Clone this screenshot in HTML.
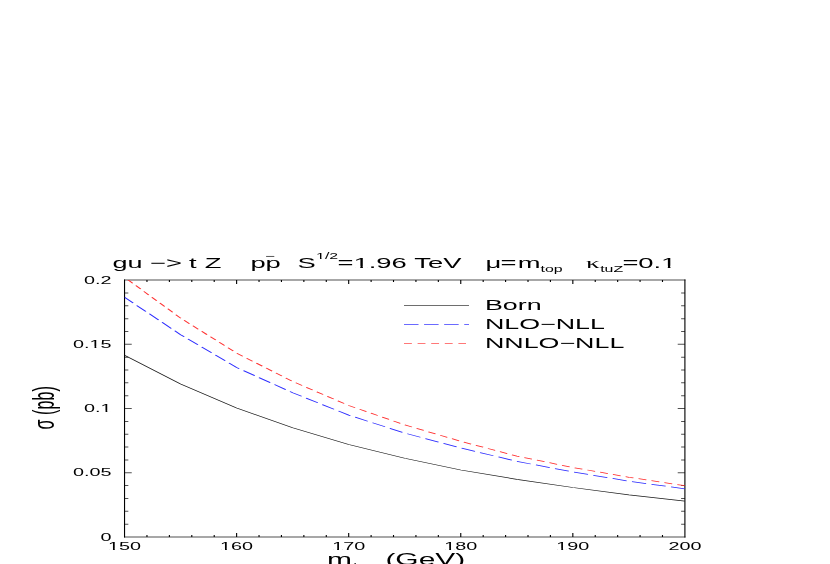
<!DOCTYPE html>
<html lang="en"><head><meta charset="utf-8"><title>plot</title>
<style>html,body{margin:0;padding:0;background:#fff}svg{display:block;will-change:transform}text{font-family:"Liberation Sans",sans-serif;fill:#000}.sy{font-family:"Liberation Serif",serif}</style></head><body>
<svg width="830" height="564" viewBox="0 0 830 564">
<rect width="830" height="564" fill="#fff"/>
<defs><clipPath id="c"><rect x="67.32" y="280.10" width="302.89" height="256.90"/></clipPath></defs>
<g transform="scale(1.85,1)">
<path d="M67.32 524.15h2.05M370.22 524.15h-2.05M67.32 511.31h2.05M370.22 511.31h-2.05M67.32 498.47h2.05M370.22 498.47h-2.05M67.32 485.62h2.05M370.22 485.62h-2.05M67.32 472.77h3.89M370.22 472.77h-3.89M67.32 459.93h2.05M370.22 459.93h-2.05M67.32 447.08h2.05M370.22 447.08h-2.05M67.32 434.24h2.05M370.22 434.24h-2.05M67.32 421.40h2.05M370.22 421.40h-2.05M67.32 408.55h3.89M370.22 408.55h-3.89M67.32 395.71h2.05M370.22 395.71h-2.05M67.32 382.86h2.05M370.22 382.86h-2.05M67.32 370.01h2.05M370.22 370.01h-2.05M67.32 357.17h2.05M370.22 357.17h-2.05M67.32 344.33h3.89M370.22 344.33h-3.89M67.32 331.48h2.05M370.22 331.48h-2.05M67.32 318.63h2.05M370.22 318.63h-2.05M67.32 305.79h2.05M370.22 305.79h-2.05M67.32 292.95h2.05M370.22 292.95h-2.05M67.02 280.10H370.52M67.02 537.00H370.52" stroke="#515151" stroke-width="1.0" fill="none"/>
<path d="M79.44 537.00v-2.0M79.44 280.10v2.0M91.56 537.00v-2.0M91.56 280.10v2.0M103.67 537.00v-2.0M103.67 280.10v2.0M115.79 537.00v-2.0M115.79 280.10v2.0M127.90 537.00v-3.9M127.90 280.10v3.9M140.02 537.00v-2.0M140.02 280.10v2.0M152.13 537.00v-2.0M152.13 280.10v2.0M164.25 537.00v-2.0M164.25 280.10v2.0M176.37 537.00v-2.0M176.37 280.10v2.0M188.48 537.00v-3.9M188.48 280.10v3.9M200.60 537.00v-2.0M200.60 280.10v2.0M212.71 537.00v-2.0M212.71 280.10v2.0M224.83 537.00v-2.0M224.83 280.10v2.0M236.94 537.00v-2.0M236.94 280.10v2.0M249.06 537.00v-3.9M249.06 280.10v3.9M261.18 537.00v-2.0M261.18 280.10v2.0M273.29 537.00v-2.0M273.29 280.10v2.0M285.41 537.00v-2.0M285.41 280.10v2.0M297.52 537.00v-2.0M297.52 280.10v2.0M309.64 537.00v-3.9M309.64 280.10v3.9M321.75 537.00v-2.0M321.75 280.10v2.0M333.87 537.00v-2.0M333.87 280.10v2.0M345.98 537.00v-2.0M345.98 280.10v2.0M358.10 537.00v-2.0M358.10 280.10v2.0M67.32 279.60V537.50M370.22 279.60V537.50" stroke="#000" stroke-width="0.6" fill="none"/>
<g clip-path="url(#c)" fill="none" stroke-linejoin="round">
<polyline points="67.32,355.31 97.61,383.98 127.90,408.00 158.19,427.76 188.48,444.57 218.77,458.30 249.06,469.97 279.35,479.34 309.64,487.55 339.93,494.86 370.22,501.15" stroke="#1a1a1a" stroke-width="0.66"/>
<polyline points="67.32,297.32 97.61,334.66 127.90,367.50 158.19,392.73 188.48,415.13 218.77,433.06 249.06,447.94 279.35,461.36 309.64,471.98 339.93,481.15 370.22,488.87" stroke="#2b2bff" stroke-width="0.78" stroke-dasharray="7.9 3.0" stroke-dashoffset="0.5"/>
<polyline points="67.32,277.31 97.61,318.11 127.90,353.13 158.19,381.49 188.48,405.48 218.77,424.87 249.06,441.29 279.35,456.14 309.64,467.45 339.93,477.27 370.22,485.66" stroke="#ff3030" stroke-width="0.78" stroke-dasharray="4.4 2.85" stroke-dashoffset="4.25"/>
</g>
<text x="60.32" y="540.70" font-size="10.7" text-anchor="end">0</text>
<text x="60.32" y="476.47" font-size="10.7" text-anchor="end">0.05</text>
<text x="60.32" y="412.25" font-size="10.7" text-anchor="end">0.1</text>
<text x="60.32" y="348.03" font-size="10.7" text-anchor="end">0.15</text>
<text x="60.32" y="283.80" font-size="10.7" text-anchor="end">0.2</text>
<text x="67.32" y="550.00" font-size="10.7" text-anchor="middle">150</text>
<text x="127.90" y="550.00" font-size="10.7" text-anchor="middle">160</text>
<text x="188.48" y="550.00" font-size="10.7" text-anchor="middle">170</text>
<text x="249.06" y="550.00" font-size="10.7" text-anchor="middle">180</text>
<text x="309.64" y="550.00" font-size="10.7" text-anchor="middle">190</text>
<text x="370.22" y="550.00" font-size="10.7" text-anchor="middle">200</text>
<path d="M218.38 305.5H253.51" stroke="#6e6e6e" stroke-width="1" fill="none"/>
<path d="M218.38 324.5H253.51" stroke="#6a6aff" stroke-width="1" stroke-dasharray="7.85 3.0" fill="none"/>
<path d="M218.38 343.4H251.89" stroke="#ff7878" stroke-width="1" stroke-dasharray="4.25 3.1" fill="none"/>
<text x="262.16" y="310.30" font-size="14.5">Born</text>
<text x="262.16" y="329.10" font-size="14.5">NLO−NLL</text>
<text x="262.16" y="348.10" font-size="14.5">NNLO−NLL</text>
<text x="60.86" y="267.70" font-size="14.6">gu</text>
<text x="81.14" y="267.70" font-size="14.8">−&gt;</text>
<text x="102.16" y="267.70" font-size="14.8">t</text>
<text x="110.70" y="267.70" font-size="14.8">Z</text>
<text x="135.46" y="267.70" font-size="14.8">p</text>
<text x="143.57" y="267.70" font-size="14.8">p</text>
<path d="M143.84 256.4H148.27" stroke="#444" stroke-width="0.9"/>
<text x="160.81" y="267.70" font-size="14.8">S</text>
<text x="170.86" y="258.80" font-size="8.6">1/2</text>
<text x="182.43" y="267.70" font-size="14.8">=1.96</text>
<text x="223.95" y="267.70" font-size="14.8">TeV</text>
<text x="262.38" y="267.70" font-size="14.8">μ</text>
<text x="270.59" y="267.70" font-size="14.8">=</text>
<text x="279.89" y="267.70" font-size="14.8">m</text>
<text x="292.22" y="271.80" font-size="8.6">top</text>
<text class="sy" x="316.76" y="267.70" font-size="14.8">κ</text>
<text x="324.43" y="271.80" font-size="8.6">tuZ</text>
<text x="336.54" y="267.70" font-size="14.8">=</text>
<text x="344.97" y="267.70" font-size="14.8">0.1</text>
<path d="M55.00 410.84H57.02V412.65H55.00ZM58.05 410.84H59.99V412.65H58.05ZM49.05 346.61H51.07V348.43H49.05ZM52.10 346.61H54.04V348.43H52.10ZM59.03 548.59H61.05V550.40H59.03ZM62.08 548.59H64.01V550.40H62.08ZM119.60 548.59H121.63V550.40H119.60ZM122.65 548.59H124.59V550.40H122.65ZM180.18 548.59H182.20V550.40H180.18ZM183.23 548.59H185.17V550.40H183.23ZM240.76 548.59H242.78V550.40H240.76ZM243.81 548.59H245.75V550.40H243.81ZM301.34 548.59H303.36V550.40H301.34ZM304.39 548.59H306.33V550.40H304.39ZM171.37 257.67H172.99V259.20H171.37ZM173.82 257.67H175.38V259.20H173.82ZM191.94 265.75H194.74V268.10H191.94ZM196.16 265.75H198.84V268.10H196.16ZM358.18 265.75H360.98V268.10H358.18ZM362.40 265.75H365.08V268.10H362.40Z" fill="#fff"/>
<text x="176.70" y="564.80" font-size="16.2">m</text>
<text x="190.76" y="568.50" font-size="9.1">top</text>
<text x="208.32" y="565.10" font-size="16.2">(GeV)</text>
<text transform="translate(29.30,429.5) rotate(-90)" font-size="16.2">σ (pb)</text>
</g>
</svg></body></html>
